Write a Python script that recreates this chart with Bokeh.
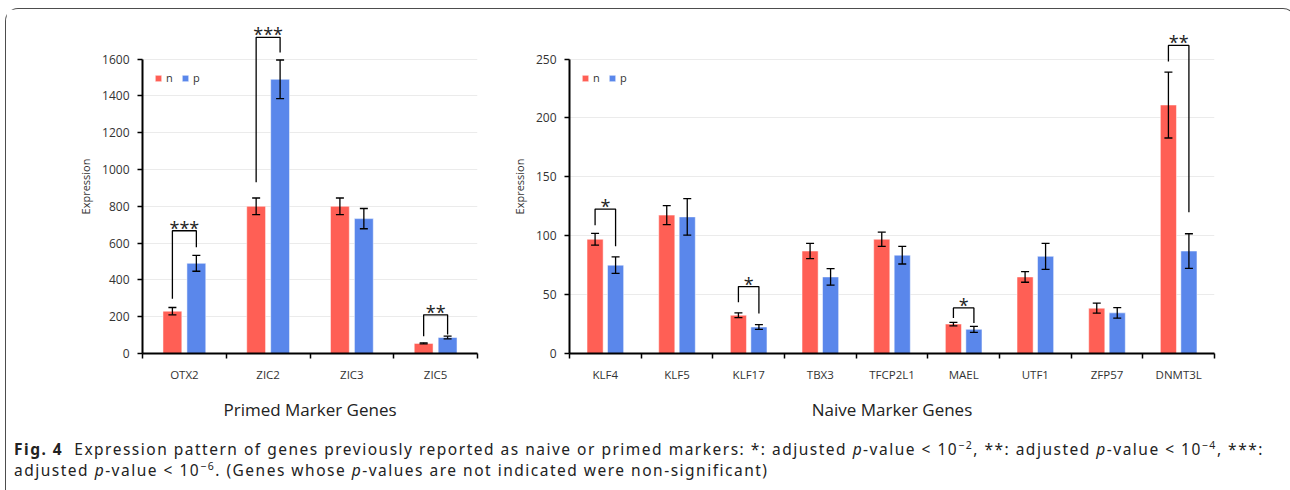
from bokeh.plotting import figure
from bokeh.models import (Range1d, FixedTicker, ColumnDataSource, Whisker, TeeHead,
                          Legend, LegendItem, Div)
from bokeh.layouts import row, column
from bokeh.core.properties import value
from bokeh.embed import file_html
from bokeh.resources import INLINE

# ---------------- data ----------------
primed_genes = ["OTX2", "ZIC2", "ZIC3", "ZIC5"]
primed_n = [230, 800, 800, 55]
primed_n_err = [20, 45, 45, 3]
primed_p = [490, 1490, 733, 87]
primed_p_err = [43, 105, 55, 7]
primed_yticks = [0, 200, 400, 600, 800, 1000, 1200, 1400, 1600]
# significance: gene index, stars, left leg bottom, bracket top, right leg bottom
primed_sig_idx = [0, 1, 3]
primed_sig_stars = ["***", "***", "**"]
primed_sig_left = [298, 930, 94]
primed_sig_top = [667, 1718, 210]
primed_sig_right = [578, 1636, 103]

naive_genes = ["KLF4", "KLF5", "KLF17", "TBX3", "TFCP2L1", "MAEL", "UTF1", "ZFP57", "DNMT3L"]
naive_n = [97, 117.5, 32.5, 87, 97, 25, 65, 38.5, 211]
naive_n_err = [5, 8, 2, 6.5, 6, 1.5, 4.5, 4.3, 28]
naive_p = [75, 116, 22.5, 65, 83.5, 20.5, 82.5, 34.5, 87]
naive_p_err = [7, 15.5, 2, 7, 7.5, 2.5, 11, 4.5, 14.7]
naive_yticks = [0, 50, 100, 150, 200, 250]
naive_sig_idx = [0, 2, 5, 8]
naive_sig_stars = ["*", "*", "*", "**"]
naive_sig_left = [109, 43.5, 30.2, 248]
naive_sig_top = [122.6, 56.8, 38.7, 261.6]
naive_sig_right = [91, 34, 26, 120]

RED = "#FF5F55"
BLUE = "#5A87EB"
FONT = "Open Sans"
TXT = "#333333"


def panel(genes, nv, ne, pv, pe, yticks, ytop, sidx, sstars, sleft, stop, sright,
          xtitle, frame_w, lb, rb):
    N = len(genes)
    p = figure(width=lb + frame_w + rb, height=417,
               x_range=Range1d(0, N), y_range=Range1d(0, ytop),
               output_backend="svg", toolbar_location=None,
               min_border_left=lb, min_border_right=rb,
               min_border_top=10, min_border_bottom=73)
    p.outline_line_color = None
    centers = [i + 0.5 for i in range(N)]
    xn = [c - 0.143 for c in centers]
    xp = [c + 0.143 for c in centers]
    rn = p.vbar(x=xn, top=nv, bottom=0, width=0.225, fill_color=RED,
                line_color="white", line_alpha=0.5, line_width=1)
    rp = p.vbar(x=xp, top=pv, bottom=0, width=0.225, fill_color=BLUE,
                line_color="white", line_alpha=0.5, line_width=1)
    for xs, vals, errs in ((xn, nv, ne), (xp, pv, pe)):
        src = ColumnDataSource(dict(base=xs,
                                    upper=[v + e for v, e in zip(vals, errs)],
                                    lower=[v - e for v, e in zip(vals, errs)]))
        w = Whisker(source=src, base="base", upper="upper", lower="lower",
                    dimension="height", line_color="black", line_width=1.3,
                    level="overlay",
                    upper_head=TeeHead(size=8, line_width=1.3, line_color="black"),
                    lower_head=TeeHead(size=8, line_width=1.3, line_color="black"))
        p.add_layout(w)
    bx, by, mx = [], [], []
    for i, l, t, r in zip(sidx, sleft, stop, sright):
        bx.append([xn[i], xn[i], xp[i], xp[i]])
        by.append([l, t, t, r])
        mx.append(centers[i])
    p.multi_line(xs=bx, ys=by, line_color="black", line_width=1.3)
    p.text(x=mx, y=stop, text=sstars, text_align="center", text_baseline="middle",
           y_offset=-3, text_font=value(FONT), text_font_size="18px", text_color="#222222")

    legend = Legend(items=[LegendItem(label="n", renderers=[rn]),
                           LegendItem(label="p", renderers=[rp])],
                    orientation="horizontal", location=(12, 268),
                    glyph_width=8, glyph_height=8, label_height=12, label_width=8,
                    label_standoff=4, spacing=7, padding=0, margin=0,
                    border_line_color=None, background_fill_alpha=0,
                    label_text_font=FONT, label_text_font_size="11px",
                    label_text_color=TXT)
    p.add_layout(legend)

    # y axis
    ya = p.yaxis[0]
    ya.ticker = FixedTicker(ticks=yticks)
    ya.bounds = (0, yticks[-1])
    ya.axis_line_width = 2
    ya.axis_line_color = "black"
    ya.major_tick_out = 5
    ya.major_tick_in = 0
    ya.major_tick_line_width = 1.5
    ya.minor_tick_line_color = None
    ya.major_label_text_font = FONT
    ya.major_label_text_font_size = "12px"
    ya.major_label_text_color = TXT
    ya.major_label_standoff = 8
    ya.axis_label = "Expression"
    ya.axis_label_text_font = FONT
    ya.axis_label_text_font_size = "11px"
    ya.axis_label_text_font_style = "normal"
    ya.axis_label_text_color = TXT
    ya.axis_label_standoff = 6

    xa = p.xaxis[0]
    xa.ticker = FixedTicker(ticks=centers, minor_ticks=list(range(N + 1)))
    xa.major_label_overrides = {c: g for c, g in zip(centers, genes)}
    xa.axis_line_width = 2
    xa.axis_line_color = "black"
    xa.major_tick_line_color = None
    xa.major_tick_out = 0
    xa.major_tick_in = 0
    xa.minor_tick_out = 5
    xa.minor_tick_in = 0
    xa.minor_tick_line_width = 1.5
    xa.minor_tick_line_color = "black"
    xa.major_label_text_font = FONT
    xa.major_label_text_font_size = "11.5px"
    xa.major_label_text_color = TXT
    xa.major_label_standoff = 8
    xa.axis_label = xtitle
    xa.axis_label_text_font = FONT
    xa.axis_label_text_font_size = "17px"
    xa.axis_label_text_font_style = "normal"
    xa.axis_label_text_color = "#222222"
    xa.axis_label_standoff = 13

    p.xgrid.grid_line_color = None
    p.ygrid.grid_line_color = "#ebebeb"
    p.ygrid.grid_line_width = 1
    p.ygrid.ticker = FixedTicker(ticks=yticks)
    return p


p1 = panel(primed_genes, primed_n, primed_n_err, primed_p, primed_p_err,
           primed_yticks, 1815, primed_sig_idx, primed_sig_stars, primed_sig_left,
           primed_sig_top, primed_sig_right, "Primed Marker Genes", 335, 136, 22)
p2 = panel(naive_genes, naive_n, naive_n_err, naive_p, naive_p_err,
           naive_yticks, 283.6, naive_sig_idx, naive_sig_stars, naive_sig_left,
           naive_sig_top, naive_sig_right, "Naive Marker Genes", 645, 70, 70)

SUP = "<sup style='font-size:0.68em;line-height:0;vertical-align:0.55em'>"
caption_html = (
    "<div style=\"font-family:'Noto Sans',sans-serif;font-size:15.5px;line-height:21px;"
    "letter-spacing:1.5px;color:#222;white-space:nowrap;padding:8px 0 0 3px\">"
    "<b>Fig. 4</b>&nbsp; Expression pattern of genes previously reported as naive or primed markers: "
    "*: adjusted <i>p</i>-value &lt; 10" + SUP + "\u22122</sup>, "
    "**: adjusted <i>p</i>-value &lt; 10" + SUP + "\u22124</sup>, ***:<br>"
    "adjusted <i>p</i>-value &lt; 10" + SUP + "\u22126</sup>. "
    "(Genes whose <i>p</i>-values are not indicated were non-significant)</div>"
)
cap = Div(text=caption_html, width=1279, height=60)

layout = column(row(p1, p2), cap,
                styles={"border": "1.5px solid #4d4d4d", "border-bottom": "none",
                        "border-radius": "13px 13px 0 0",
                        "margin-left": "5px", "margin-top": "8px"})

open("out.html", "w").write(file_html(layout, INLINE))
